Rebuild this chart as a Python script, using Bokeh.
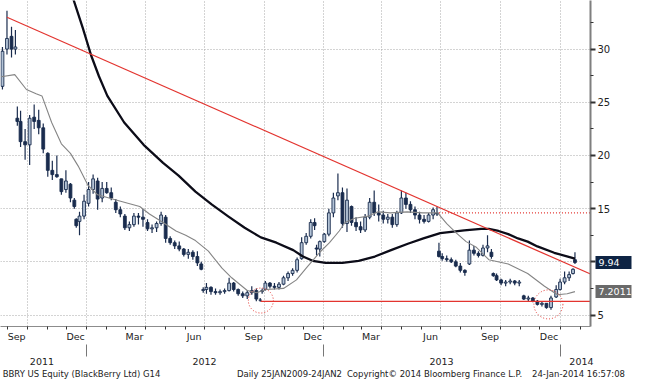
import pandas as pd
from bokeh.plotting import figure
from bokeh.models import (ColumnDataSource, Range1d, DatetimeAxis, LinearAxis, FixedTicker,
                          Grid, DatetimeTickFormatter, CustomJSTickFormatter)
from bokeh.embed import file_html
from bokeh.resources import INLINE

# ---------------- data ----------------
bar_dates = [
    "2011-08-24", "2011-08-31", "2011-09-07", "2011-09-13", "2011-09-16", "2011-09-21", "2011-09-28",
    "2011-10-05", "2011-10-12", "2011-10-19", "2011-10-26",
    "2011-11-02", "2011-11-09", "2011-11-16", "2011-11-23", "2011-11-30",
    "2011-12-07", "2011-12-13", "2011-12-16", "2011-12-21", "2011-12-28",
    "2012-01-04", "2012-01-11", "2012-01-18", "2012-01-25",
    "2012-02-01", "2012-02-08", "2012-02-15", "2012-02-22", "2012-02-29",
    "2012-03-07", "2012-03-14", "2012-03-21", "2012-03-28",
    "2012-04-04", "2012-04-11", "2012-04-18", "2012-04-25",
    "2012-05-02", "2012-05-09", "2012-05-16", "2012-05-23", "2012-05-30",
    "2012-06-06", "2012-06-13", "2012-06-20", "2012-06-26", "2012-06-29",
    "2012-07-04", "2012-07-11", "2012-07-18", "2012-07-25",
    "2012-08-01", "2012-08-08", "2012-08-15", "2012-08-22", "2012-08-29",
    "2012-09-05", "2012-09-12", "2012-09-19", "2012-09-25", "2012-09-28",
    "2012-10-03", "2012-10-10", "2012-10-17", "2012-10-24", "2012-10-31",
    "2012-11-07", "2012-11-14", "2012-11-21", "2012-11-28",
    "2012-12-05", "2012-12-12", "2012-12-18", "2012-12-21", "2012-12-26",
    "2013-01-02", "2013-01-09", "2013-01-16", "2013-01-23", "2013-01-30",
    "2013-02-06", "2013-02-13", "2013-02-20", "2013-02-27",
    "2013-03-06", "2013-03-13", "2013-03-20", "2013-03-27",
    "2013-04-03", "2013-04-10", "2013-04-17", "2013-04-24",
    "2013-05-01", "2013-05-08", "2013-05-15", "2013-05-22", "2013-05-29",
    "2013-06-05", "2013-06-12", "2013-06-19", "2013-06-25", "2013-06-28",
    "2013-07-03", "2013-07-10", "2013-07-17", "2013-07-24", "2013-07-31",
    "2013-08-07", "2013-08-14", "2013-08-21", "2013-08-28",
    "2013-09-04", "2013-09-11", "2013-09-17", "2013-09-20", "2013-09-25",
    "2013-10-02", "2013-10-09", "2013-10-16", "2013-10-23", "2013-10-30",
    "2013-11-06", "2013-11-13", "2013-11-20", "2013-11-27",
    "2013-12-04", "2013-12-11", "2013-12-18", "2013-12-26",
    "2014-01-01", "2014-01-08", "2014-01-15", "2014-01-21", "2014-01-24",
]
bar_open = [
    26.5, 30.0, 31.2, 30.0, 23.5, 23.2, 21.3,
    21.0, 23.6, 23.3, 22.6,
    20.2, 18.6, 18.2, 17.8, 16.8,
    17.3, 15.8, 14.0, 13.8, 14.3,
    15.5, 16.8, 17.6, 16.0,
    16.9, 16.5, 15.6, 14.9, 14.3,
    13.2, 13.5, 14.3, 14.2,
    13.7, 13.1, 13.2, 13.6,
    14.2, 12.2, 11.8, 11.5, 11.2,
    10.7, 10.9, 10.5, 9.8, 7.3,
    7.4, 7.6, 7.2, 7.1,
    7.2, 7.3, 8.0, 7.4, 7.0,
    6.8, 7.1, 7.3, 6.4, 7.2,
    7.4, 8.0, 7.7, 7.6, 7.9,
    8.5, 8.9, 9.2, 10.3,
    11.8, 12.4, 13.7, 11.3, 11.2,
    11.9, 12.6, 14.6, 16.2, 16.5,
    13.6, 15.2, 13.7, 13.3,
    13.0, 14.2, 15.6, 14.6,
    14.4, 14.0, 14.2, 13.5,
    14.6, 16.0, 15.4, 14.9, 14.4,
    14.0, 13.8, 14.4, 14.6, 11.0,
    10.5, 10.3, 10.2, 10.0, 9.6,
    9.2, 9.8, 11.1, 10.8,
    10.6, 11.3, 10.9, 8.9, 8.7,
    8.3, 8.0, 8.1, 8.2, 8.0,
    6.8, 6.5, 6.6, 6.3,
    6.0, 6.1, 5.7, 6.7,
    7.4, 8.1, 8.5, 8.9, 10.2,
]
bar_high = [
    30.2, 33.6, 32.1, 31.8, 24.6, 24.2, 22.5,
    23.8, 24.8, 24.3, 23.0,
    20.3, 19.5, 20.0, 17.8, 18.6,
    17.4, 16.0, 14.1, 14.7, 16.3,
    17.5, 18.2, 17.9, 17.5,
    17.5, 17.0, 15.9, 15.2, 14.5,
    13.8, 14.6, 14.6, 15.0,
    14.0, 13.5, 13.8, 14.7,
    14.4, 12.4, 12.0, 11.9, 11.3,
    11.2, 11.1, 11.0, 10.0, 7.6,
    8.0, 7.7, 7.5, 7.4,
    7.5, 8.5, 8.1, 7.5, 7.2,
    7.3, 7.7, 7.5, 6.6, 7.5,
    8.2, 8.1, 8.0, 8.1, 8.7,
    9.1, 9.4, 10.4, 12.3,
    12.7, 14.0, 14.1, 11.6, 12.0,
    12.7, 15.0, 16.5, 18.3, 17.0,
    16.9, 15.3, 14.2, 13.8,
    14.5, 16.0, 16.7, 15.4,
    14.8, 14.5, 14.5, 14.8,
    16.7, 16.5, 15.7, 15.2, 14.7,
    14.4, 14.6, 15.1, 15.2, 11.8,
    10.8, 10.6, 10.4, 10.2, 9.9,
    9.3, 12.0, 11.5, 11.0,
    11.6, 12.5, 11.2, 9.0, 8.9,
    8.4, 8.3, 8.4, 8.3, 8.3,
    6.9, 6.8, 6.7, 6.4,
    6.3, 6.1, 6.8, 7.8,
    8.4, 9.1, 9.1, 9.4, 10.9,
]
bar_low = [
    26.2, 29.5, 29.2, 29.5, 22.8, 20.8, 19.6,
    19.1, 22.5, 22.0, 20.2,
    18.0, 17.7, 17.9, 16.3, 16.5,
    15.6, 15.0, 13.2, 12.5, 14.0,
    15.2, 16.4, 14.9, 15.6,
    16.4, 15.8, 14.6, 14.2, 13.0,
    12.9, 13.3, 13.5, 13.3,
    12.9, 12.7, 12.8, 13.4,
    11.8, 11.6, 11.2, 11.0, 10.5,
    10.3, 10.2, 9.6, 9.2, 7.1,
    7.0, 6.9, 6.9, 6.9,
    7.0, 7.2, 7.2, 6.8, 6.6,
    6.5, 6.9, 6.3, 6.25, 7.0,
    7.3, 7.5, 7.4, 7.4, 7.8,
    8.2, 8.7, 9.0, 10.2,
    11.6, 12.2, 13.0, 10.6, 10.5,
    11.8, 12.4, 14.2, 15.8, 13.2,
    12.8, 13.4, 12.9, 12.7,
    12.8, 14.0, 14.3, 13.8,
    13.6, 13.6, 13.2, 13.3,
    14.5, 15.0, 14.6, 14.0, 13.6,
    13.6, 13.7, 14.0, 14.3, 10.4,
    10.1, 10.0, 9.9, 9.5, 9.0,
    8.7, 9.7, 10.6, 10.4,
    10.5, 10.9, 10.3, 8.6, 8.2,
    7.8, 7.7, 7.9, 7.8, 7.7,
    6.4, 6.3, 6.2, 5.9,
    5.8, 5.6, 5.5, 6.6,
    7.3, 7.9, 8.2, 8.8, 9.8,
]
bar_close = [
    29.8, 31.0, 30.0, 30.2, 23.2, 21.3, 21.0,
    23.5, 23.2, 22.6, 20.6,
    18.6, 18.2, 18.0, 16.6, 17.6,
    16.0, 15.2, 13.4, 14.3, 15.7,
    16.8, 17.8, 15.9, 16.9,
    16.5, 16.0, 14.9, 14.5, 13.2,
    13.5, 14.3, 14.2, 14.0,
    13.1, 13.2, 13.6, 14.4,
    12.2, 11.8, 11.5, 11.2, 10.7,
    10.9, 10.5, 9.9, 9.3, 7.4,
    7.6, 7.2, 7.1, 7.2,
    7.3, 8.0, 7.4, 7.0, 6.8,
    7.1, 7.3, 6.5, 6.4, 7.3,
    8.0, 7.7, 7.6, 7.9, 8.5,
    8.9, 9.2, 10.2, 11.8,
    12.4, 13.7, 13.4, 11.2, 11.9,
    12.6, 14.6, 16.0, 16.5, 13.6,
    15.8, 13.7, 13.3, 13.0,
    14.2, 15.6, 14.6, 14.4,
    14.0, 14.2, 13.5, 14.6,
    16.0, 15.4, 14.9, 14.4, 14.0,
    13.8, 14.4, 14.9, 14.5, 10.5,
    10.3, 10.2, 10.0, 9.6, 9.2,
    9.0, 11.1, 10.8, 10.6,
    11.3, 11.5, 10.5, 8.7, 8.3,
    8.0, 8.1, 8.2, 8.0, 8.1,
    6.5, 6.6, 6.3, 6.0,
    6.1, 5.7, 6.6, 7.4,
    8.1, 8.5, 8.8, 9.3, 9.94,
]

ma50_dates = [
    "2011-08-22", "2011-09-12", "2011-09-30", "2011-10-15", "2011-10-24", "2011-11-08",
    "2011-11-23", "2011-12-07", "2011-12-19",
    "2012-01-03", "2012-01-18", "2012-02-10", "2012-02-28", "2012-03-23", "2012-04-07",
    "2012-04-28", "2012-05-18", "2012-06-02", "2012-06-17", "2012-07-07", "2012-07-28",
    "2012-08-12", "2012-09-05", "2012-09-19", "2012-10-05", "2012-10-31", "2012-11-20",
    "2012-12-05", "2012-12-26",
    "2013-01-10", "2013-01-25", "2013-02-03", "2013-02-18", "2013-03-11", "2013-03-26",
    "2013-04-14", "2013-05-10", "2013-06-03", "2013-06-26", "2013-07-10", "2013-07-25",
    "2013-08-09", "2013-08-24", "2013-09-13", "2013-10-13", "2013-11-12", "2013-12-08",
    "2013-12-28", "2014-01-12", "2014-01-24",
]
ma50_values = [
    27.4, 27.6, 26.2, 25.8, 25.6, 23.1, 21.1, 20.2, 19.0,
    17.2, 16.3, 15.9, 15.6, 15.2, 14.5, 13.7, 12.9, 12.5, 12.0, 11.0, 9.4,
    8.5, 7.3, 7.1, 7.4, 7.5, 8.3, 9.4, 10.9,
    11.8, 12.9, 13.7, 14.1, 14.3, 14.7, 14.6, 14.7, 14.6, 14.6, 13.6, 12.7,
    11.9, 11.4, 10.2, 9.8, 8.9, 7.7, 6.9, 7.0, 7.2011,
]

ma200_dates = [
    "2011-12-04", "2011-12-12", "2011-12-26",
    "2012-01-08", "2012-01-20", "2012-02-02", "2012-02-28", "2012-03-29", "2012-04-28",
    "2012-05-22", "2012-06-17", "2012-07-12", "2012-08-06", "2012-09-01", "2012-09-26",
    "2012-10-20", "2012-11-15", "2012-11-30", "2012-12-15",
    "2013-01-04", "2013-01-30", "2013-02-24", "2013-03-21", "2013-04-15", "2013-05-11",
    "2013-06-04", "2013-06-30", "2013-08-06", "2013-09-01", "2013-09-13", "2013-09-28",
    "2013-10-13", "2013-10-28", "2013-11-12", "2013-11-27", "2013-12-23", "2014-01-24",
]
ma200_values = [
    35.9, 34.6, 32.0,
    29.4, 27.45, 25.6, 23.1, 21.0, 19.3,
    18.1, 16.6, 15.4, 14.3, 13.2, 12.3,
    11.8, 11.1, 10.5, 10.1,
    9.9, 9.9, 10.1, 10.5, 11.1, 11.7,
    12.2, 12.7, 12.95, 13.1, 13.1, 12.9,
    12.6, 12.2, 11.9, 11.45, 10.85, 10.3,
]

trend_dates = ["2011-08-31", "2014-02-17"]
trend_values = [33.0, 8.85]
support_dates = ["2012-09-26", "2014-02-17"]
support_value = 6.28
resistance_dates = ["2013-06-28", "2014-02-17"]
resistance_value = 14.6
circle_dates = ["2012-09-26", "2013-12-14"]
circle_values = [6.36, 6.0]

last_values = [9.94, 7.2011]
last_labels = ["9.94", "7.2011"]
last_colors = ["#0e2444", "#6a6a6a"]

y_ticks = [5, 10, 15, 20, 25, 30]
y_minor = [7.5, 12.5, 17.5, 22.5, 27.5, 32.5]
month_label_dates = ["2011-09-15", "2011-12-15", "2012-03-15", "2012-06-15", "2012-09-15",
                     "2012-12-15", "2013-03-15", "2013-06-15", "2013-09-15", "2013-12-15"]
year_label_dates = ["2011-10-24", "2012-07-01", "2013-07-02", "2014-02-03"]
year_breaks = ["2012-01-01", "2013-01-01", "2014-01-01"]
x_start, x_end = "2011-08-21", "2014-02-17"
y_start, y_end = 3.92, 34.57

footer_texts = ["BBRY US Equity (BlackBerry Ltd) G14", "Daily 25JAN2009-24JAN2",
                "Copyright\u00a9 2014 Bloomberg Finance L.P.", "24-Jan-2014 16:57:08"]
footer_centers_px = [81, 289, 434, 578]


def ms(dates):
    return [int(pd.Timestamp(d).value // 10**6) for d in dates]


DAY = 86400000
FONT = "DejaVu Sans"
NAVY = "#1a2c4e"
RED = "#e3342f"
FRAME_W, FRAME_H = 590, 326

month_starts = ms(pd.date_range("2011-09-01", "2014-02-01", freq="MS"))
quarter_starts = ms(pd.date_range("2011-10-01", "2014-01-01", freq="QS"))
x0_ms, x1_ms = ms([x_start])[0], ms([x_end])[0]

p = figure(frame_width=FRAME_W, frame_height=FRAME_H, x_axis_type=None,
           y_axis_location="right", output_backend="svg", toolbar_location=None,
           x_range=Range1d(x0_ms, x1_ms), y_range=Range1d(y_start, y_end),
           min_border_left=0, min_border_top=0, min_border_right=39, min_border_bottom=38,
           background_fill_color="white", border_fill_color="white")
p.outline_line_color = None

# grids
p.ygrid.grid_line_color = "#a8a8a8"
p.ygrid.grid_line_dash = "1 2"
xg = Grid(dimension=0, ticker=FixedTicker(ticks=quarter_starts),
          grid_line_color="#a8a8a8", grid_line_dash="1 2", grid_line_width=1)
p.add_layout(xg)

# candles
src = ColumnDataSource(dict(
    x=ms(bar_dates), high=bar_high, low=bar_low,
    top=[max(o, c) for o, c in zip(bar_open, bar_close)],
    bottom=[min(o, c) for o, c in zip(bar_open, bar_close)],
    fill=["#b3c3d6" if c >= o else NAVY for o, c in zip(bar_open, bar_close)],
))
p.segment(x0="x", y0="high", x1="x", y1="low", source=src, line_color=NAVY, line_width=1.2)
p.vbar(x="x", width=4.4 * DAY, top="top", bottom="bottom", fill_color="fill",
       line_color=NAVY, line_width=0.9, source=src)

# moving averages
p.line(ms(ma200_dates), ma200_values, line_color="#0c0c18", line_width=2.3, line_join="round")
p.line(ms(ma50_dates), ma50_values, line_color="#858585", line_width=1.1, line_join="round")

# analysis lines
p.line(ms(trend_dates), trend_values, line_color=RED, line_width=1.2)
p.line(ms(support_dates), [support_value] * 2, line_color=RED, line_width=1.2)
p.line(ms(resistance_dates), [resistance_value] * 2, line_color=RED, line_width=1.4,
       line_dash="1 2")
p.scatter(ms(circle_dates), circle_values, size=[25, 29], marker="circle", fill_color=None,
          line_color=RED, line_width=1, line_dash="1 2")

# right price axis  (size = 5 tick + 2 standoff + ~13 label = ~20px)
yax = p.yaxis[0]
yax.ticker = FixedTicker(ticks=y_ticks, minor_ticks=y_minor)
yax.major_label_overrides = {10: ""}
yax.axis_line_color = "#7f7f7f"
yax.axis_line_width = 2
yax.major_tick_in = 0
yax.major_tick_out = 5
yax.major_tick_line_color = "#333333"
yax.major_tick_line_width = 2
yax.minor_tick_in = 0
yax.minor_tick_out = 3
yax.minor_tick_line_color = "#333333"
yax.major_label_standoff = 2
yax.major_label_text_font = FONT
yax.major_label_text_font_size = "10px"
yax.major_label_text_color = "#222222"

# last-value boxes drawn as thick ticks of two extra right axes
blank = CustomJSTickFormatter(code="return ''")
box_specs = [(18, 18), (36, 0)]   # (tick_in, tick_out) for the 1st / 2nd extra axis
for val, col, (t_in, t_out) in zip(last_values, last_colors, box_specs):
    bx = LinearAxis(ticker=FixedTicker(ticks=[val], minor_ticks=[]), formatter=blank)
    bx.axis_line_color = None
    bx.major_tick_in = t_in
    bx.major_tick_out = t_out
    bx.major_tick_line_width = 13
    bx.major_tick_line_color = col
    bx.minor_tick_line_color = None
    bx.major_label_standoff = 0
    bx.major_label_text_font_size = "0px"
    p.add_layout(bx, "right")

# white texts of the boxes
tx = LinearAxis(ticker=FixedTicker(ticks=last_values, minor_ticks=[]),
                formatter=CustomJSTickFormatter(args=dict(labels=last_labels),
                                                code="return labels[index]"))
tx.axis_line_color = None
tx.major_tick_line_color = None
tx.minor_tick_line_color = None
tx.major_tick_in = 0
tx.major_tick_out = 0
tx.major_label_standoff = -33
tx.major_label_text_color = "white"
tx.major_label_text_font = FONT
tx.major_label_text_font_size = "9.5px"
p.add_layout(tx, "right")


def fmt(f):
    return DatetimeTickFormatter(microseconds=f, milliseconds=f, seconds=f, minsec=f,
                                 minutes=f, hourmin=f, hours=f, days=f, months=f, years=f)


def style_bottom(ax, size):
    ax.major_tick_line_color = None
    ax.major_tick_out = 0
    ax.major_tick_in = 0
    ax.minor_tick_in = 0
    ax.major_label_standoff = 1
    ax.major_label_text_font = FONT
    ax.major_label_text_font_size = size
    ax.major_label_text_color = "#222222"


mx = DatetimeAxis(ticker=FixedTicker(ticks=ms(month_label_dates), minor_ticks=month_starts),
                  formatter=fmt("%b"))
style_bottom(mx, "9.5px")
mx.axis_line_color = "#8c8c8c"
mx.minor_tick_out = 3
mx.minor_tick_line_color = "#333333"
p.add_layout(mx, "below")

yr = DatetimeAxis(ticker=FixedTicker(ticks=ms(year_label_dates), minor_ticks=ms(year_breaks)),
                  formatter=fmt("%Y"))
style_bottom(yr, "9.5px")
yr.axis_line_color = None
yr.minor_tick_out = 12
yr.minor_tick_line_color = "#777777"
p.add_layout(yr, "below")

# footer line (as labels of a plain axis)
foot_ticks = [x0_ms + c / FRAME_W * (x1_ms - x0_ms) for c in footer_centers_px]
ft = LinearAxis(ticker=FixedTicker(ticks=foot_ticks, minor_ticks=[]),
                formatter=CustomJSTickFormatter(args=dict(labels=footer_texts),
                                                code="return labels[index]"))
style_bottom(ft, "8.5px")
ft.axis_line_color = None
ft.minor_tick_line_color = None
p.add_layout(ft, "below")

open("out.html", "w").write(file_html(p, INLINE))
